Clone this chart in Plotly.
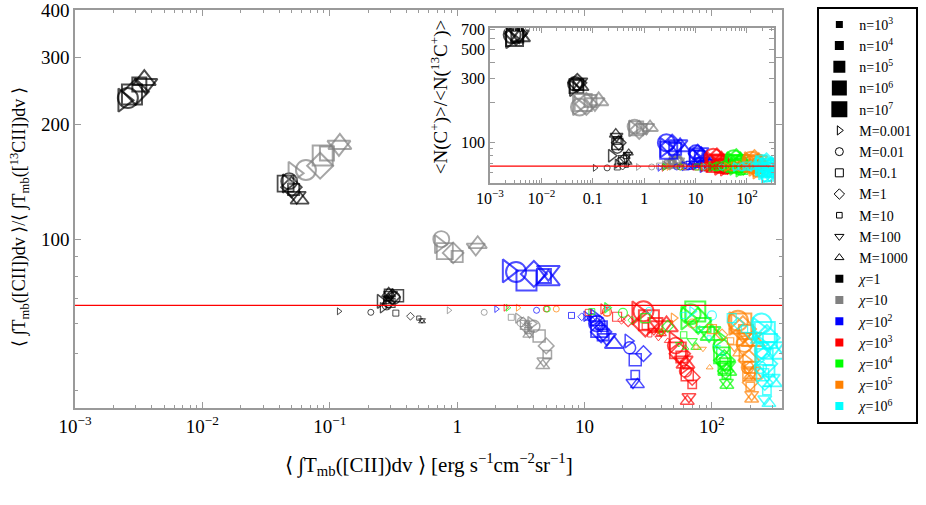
import plotly.graph_objects as go

# marker size <-> density n, symbol <-> clump mass M, colour <-> FUV field chi
n_labels = ["n=10<sup>3</sup>", "n=10<sup>4</sup>", "n=10<sup>5</sup>", "n=10<sup>6</sup>", "n=10<sup>7</sup>"]
m_labels = ["M=0.001", "M=0.01", "M=0.1", "M=1", "M=10", "M=100", "M=1000"]
chi_labels = ["<i>χ</i>=1", "<i>χ</i>=10", "<i>χ</i>=10<sup>2</sup>", "<i>χ</i>=10<sup>3</sup>",
              "<i>χ</i>=10<sup>4</sup>", "<i>χ</i>=10<sup>5</sup>", "<i>χ</i>=10<sup>6</sup>"]
chi_colors = ["#000000", "#808080", "#0000ff", "#ff0000", "#00ff00", "#ff8000", "#00ffff"]
m_symbols = ["triangle-right-open", "circle-open", "square-open", "diamond-open",
             "square-open", "triangle-down-open", "triangle-up-open"]
m_scale = [1, 1, 1, 1, 0.7, 1, 1]

isotope_ratio = 67

# main panel: <int T([CII])dv> (x) and line ratio (y); rows n=10^3..10^7, columns M=0.001..1000
main_x_chi1 = [[0.118, 0.21, 0.33, 0.43, 0.5, 0.53, 0.53],
               [0.26, 0.28, 0.3, 0.29, 0.28, 0.29, 0.29],
               [0.25, 0.32, 0.34, 0.31, 0.29, 0.3, 0.29],
               [0.046, 0.048, 0.045, 0.05, 0.052, 0.055, 0.058],
               [0.0024, 0.0026, 0.0028, 0.003, 0.0032, 0.0036, 0.0035]]
main_y_chi1 = [[64.6, 64.2, 63.9, 62.7, 62, 61.2, 60.8],
               [66, 67, 68, 68, 69, 70, 70],
               [68.6, 70, 71, 70.5, 72, 71.5, 72],
               [140, 142, 140, 137, 135, 130, 127],
               [232, 235, 240, 244, 255, 256, 262]]
main_x_chi2 = [[0.86, 1.63, 2.66, 3.3, 3.5, 3.6, 3.6],
               [3.0, 3.2, 3.4, 3.5, 3.6, 3.7, 3.6],
               [3.8, 4.0, 4.4, 5.0, 5.1, 4.8, 4.7],
               [0.72, 0.75, 0.8, 0.93, 1.0, 1.4, 1.45],
               [0.052, 0.065, 0.088, 0.084, 0.095, 0.118, 0.12]]
main_y_chi2 = [[65, 64.2, 62.3, 61, 60, 59.5, 59],
               [62, 60.5, 59.5, 58.5, 57.5, 56.5, 56],
               [60, 59, 55.6, 52.4, 49.7, 47.8, 46.5],
               [97, 100, 93, 92, 90, 95, 97],
               [149, 152, 166, 156, 168, 176, 178]]
main_x_chi3 = [[2.03, 4.2, 7.9, 9.5, 10.5, 11, 11.5],
               [10.3, 11.5, 12, 12.5, 13, 13.5, 14],
               [22, 22.6, 25, 29, 25, 24, 26],
               [12, 12.5, 13, 13.5, 14, 15, 17],
               [2.5, 2.9, 3.5, 4.0, 4.8, 5.2, 5.2]]
main_y_chi3 = [[65.5, 65, 63, 62.5, 62, 62, 61.5],
               [62.7, 62, 61, 60, 59, 58.5, 58],
               [54, 51.8, 48.2, 50, 44, 42, 41.5],
               [62, 60, 58, 57, 56, 55, 53],
               [82.5, 82, 77.8, 81, 80, 82.5, 78]]
main_x_chi4 = [[2.4, 5.0, 10.7, 19.5, 32.5, 38, 45],
               [14, 15, 18, 22, 30, 35, 40],
               [60, 62, 64, 70, 70, 66, 64],
               [50, 52, 54, 56, 58, 60, 62],
               [26, 29, 32, 30, 36, 40, 44]]
main_y_chi4 = [[66, 65.5, 64.2, 61.2, 56, 55, 54],
               [65.5, 64.5, 62.5, 61, 59, 57.5, 56.5],
               [46, 45, 44, 43.3, 41.5, 38.5, 37.5],
               [54, 52.5, 51, 50, 49, 48, 47],
               [64, 64.6, 61.2, 60, 59.5, 59, 59]]
main_x_chi5 = [[2.5, 5.1, 11.4, 23.5, 40, 55, 62],
               [15, 20, 30, 45, 60, 70, 75],
               [115, 120, 125, 128, 130, 130, 131],
               [112, 118, 120, 125, 128, 130, 132],
               [63, 68, 74, 78, 86, 95, 100]]
main_y_chi5 = [[66, 65.5, 64.5, 61.2, 57, 53, 51.8],
               [66, 64, 62, 59, 56, 54, 52],
               [50, 48, 46, 45, 44, 42, 41.3],
               [55, 52, 49.5, 48, 47, 46.5, 45],
               [62, 63.5, 64.5, 61, 59.5, 57, 56]]
main_x_chi6 = [[3, 6, 15, 40, 75, 85, 96],
               [50, 70, 100, 120, 140, 150, 160],
               [185, 190, 195, 200, 200, 205, 205],
               [170, 180, 190, 195, 200, 205, 210],
               [150, 160, 170, 175, 185, 200, 210]]
main_y_chi6 = [[66, 65.5, 64, 57, 52, 51.5, 46],
               [62, 60, 58, 56, 54, 52, 50],
               [48, 46, 44, 42, 41, 39, 38],
               [55, 53, 50, 48, 46, 45, 44],
               [60, 61, 60, 58, 57, 55, 54]]
main_x_chi7 = [[15, 32, 60, 80, 95, 110, 120],
               [70, 100, 143, 160, 180, 200, 220],
               [230, 240, 250, 260, 270, 260, 280],
               [240, 250, 260, 270, 280, 290, 300],
               [230, 245, 260, 270, 285, 300, 310]]
main_y_chi7 = [[66, 65, 63, 58, 55, 52, 50],
               [64.5, 63, 62, 60, 58, 56, 54],
               [48, 46, 44, 42, 40, 38, 37],
               [53, 51, 49, 47, 45, 43, 42],
               [58, 60, 57, 55, 54, 52, 50]]

# inset: column density ratio N(C+)/N(13C+)
ins_x_chi1 = [[0.11, 0.19, 0.3, 0.38, 0.45, 0.48, 0.5],
              [0.3, 0.35, 0.38, 0.42, 0.45, 0.48, 0.5],
              [0.23, 0.3, 0.3, 0.32, 0.3, 0.29, 0.28],
              [0.042, 0.045, 0.048, 0.05, 0.052, 0.055, 0.058],
              [0.0025, 0.0027, 0.003, 0.0032, 0.0034, 0.0037, 0.0039]]
ins_y_chi1 = [[65, 65, 66, 67, 68, 70, 71],
              [70, 73, 75, 77, 80, 82, 84],
              [80, 92, 98, 100, 104, 112, 116],
              [255, 275, 265, 280, 270, 285, 262],
              [600, 640, 610, 650, 620, 640, 615]]
ins_x_chi2 = [[0.76, 1.4, 2.0, 2.5, 2.7, 2.8, 2.9],
              [2.5, 2.8, 3.0, 3.2, 3.4, 3.5, 3.6],
              [3.5, 3.8, 4.0, 4.3, 4.5, 4.6, 4.8],
              [0.6, 0.65, 0.7, 0.8, 0.9, 1.1, 1.3],
              [0.05, 0.055, 0.065, 0.075, 0.09, 0.11, 0.13]]
ins_y_chi2 = [[66, 66, 67, 67, 67, 68, 68],
              [68, 69, 70, 70, 71, 71, 72],
              [70, 71, 72, 72, 73, 73, 74],
              [128, 132, 128, 125, 127, 130, 130],
              [190, 185, 200, 195, 205, 200, 205]]
ins_x_chi3 = [[2.0, 4.3, 6.6, 8, 9, 10, 10.5],
              [6, 7, 8, 9, 10, 11, 12],
              [14, 15, 16, 17, 18, 19, 20],
              [9, 10, 10.5, 11, 12, 12.5, 13],
              [2.5, 2.7, 3, 3.5, 4, 4.5, 5]]
ins_y_chi3 = [[65, 66, 66, 67, 67, 67, 68],
              [67, 68, 68, 69, 69, 70, 70],
              [67, 68, 69, 70, 70, 71, 72],
              [80, 85, 78, 83, 80, 86, 82],
              [92, 100, 88, 95, 90, 97, 93]]
ins_x_chi4 = [[2.4, 5.0, 10, 14, 20, 25, 30],
              [14, 16, 18, 20, 22, 25, 28],
              [35, 38, 40, 42, 44, 46, 48],
              [28, 30, 32, 34, 36, 38, 40],
              [20, 22, 24, 26, 28, 30, 32]]
ins_y_chi4 = [[65, 66, 66, 66, 66, 66, 66],
              [66, 66, 67, 67, 68, 68, 68],
              [63, 64, 65, 66, 67, 68, 68],
              [66, 67, 68, 69, 69, 70, 70],
              [72, 78, 70, 75, 72, 76, 74]]
ins_x_chi5 = [[2.5, 5.1, 11, 23, 35, 45, 55],
              [20, 25, 30, 35, 40, 45, 50],
              [70, 75, 80, 85, 90, 95, 100],
              [55, 60, 65, 70, 75, 80, 85],
              [50, 55, 58, 62, 66, 70, 75]]
ins_y_chi5 = [[66, 66, 66, 66, 66, 66, 66],
              [66, 66, 67, 67, 67, 68, 68],
              [62, 63, 64, 65, 66, 66, 67],
              [66, 67, 68, 69, 70, 70, 71],
              [72, 76, 70, 74, 72, 75, 73]]
ins_x_chi6 = [[3, 6, 15, 40, 75, 85, 96],
              [40, 50, 60, 70, 80, 90, 100],
              [150, 160, 170, 180, 190, 200, 210],
              [130, 140, 150, 160, 170, 180, 190],
              [110, 120, 130, 140, 150, 160, 170]]
ins_y_chi6 = [[66, 66, 66, 66, 66, 65, 65],
              [66, 66, 67, 67, 67, 68, 68],
              [60, 61, 62, 63, 64, 65, 66],
              [65, 66, 67, 68, 68, 69, 70],
              [72, 74, 70, 73, 71, 74, 72]]
ins_x_chi7 = [[15, 32, 60, 80, 95, 110, 120],
              [60, 80, 100, 120, 140, 160, 180],
              [220, 240, 260, 280, 300, 310, 320],
              [200, 220, 240, 260, 280, 300, 320],
              [180, 200, 220, 240, 260, 280, 300]]
ins_y_chi7 = [[66, 66, 66, 66, 66, 65, 65],
              [66, 66, 67, 67, 67, 68, 68],
              [55, 56, 57, 58, 59, 60, 61],
              [61, 62, 63, 64, 65, 66, 67],
              [68, 70, 66, 69, 67, 70, 68]]

main_sets = [(main_x_chi1, main_y_chi1), (main_x_chi2, main_y_chi2), (main_x_chi3, main_y_chi3),
             (main_x_chi4, main_y_chi4), (main_x_chi5, main_y_chi5), (main_x_chi6, main_y_chi6),
             (main_x_chi7, main_y_chi7)]
inset_sets = [(ins_x_chi1, ins_y_chi1), (ins_x_chi2, ins_y_chi2), (ins_x_chi3, ins_y_chi3),
              (ins_x_chi4, ins_y_chi4), (ins_x_chi5, ins_y_chi5), (ins_x_chi6, ins_y_chi6),
              (ins_x_chi7, ins_y_chi7)]

main_sizes = [6, 9, 12, 16, 20]
inset_sizes = [6, 8, 11, 14, 17]
line_widths = [1, 1.2, 1.5, 1.8, 2]

FONT = "Liberation Serif"


def flatten(xs, ys, sizes):
    fx, fy, sym, sz, lw = [], [], [], [], []
    for i in range(len(xs)):
        for j in range(len(xs[i])):
            fx.append(xs[i][j])
            fy.append(ys[i][j])
            sym.append(m_symbols[j])
            sz.append(sizes[i] * m_scale[j])
            lw.append(line_widths[i])
    return fx, fy, sym, sz, lw


fig = go.Figure()

for k, (xs, ys) in enumerate(main_sets):
    fx, fy, sym, sz, lw = flatten(xs, ys, main_sizes)
    fig.add_trace(go.Scatter(x=fx, y=fy, mode="markers", showlegend=False, hoverinfo="skip",
                             marker=dict(symbol=sym, size=sz, color=chi_colors[k],
                                         line=dict(width=lw, color=chi_colors[k])),
                             xaxis="x", yaxis="y"))

for k, (xs, ys) in enumerate(inset_sets):
    fx, fy, sym, sz, lw = flatten(xs, ys, inset_sizes)
    fig.add_trace(go.Scatter(x=fx, y=fy, mode="markers", showlegend=False, hoverinfo="skip",
                             marker=dict(symbol=sym, size=sz, color=chi_colors[k],
                                         line=dict(width=lw, color=chi_colors[k])),
                             xaxis="x2", yaxis="y2"))

# legend-only entries
legend_sq = [7, 9, 12, 15, 16]
for i, lab in enumerate(n_labels):
    fig.add_trace(go.Scatter(x=[None], y=[None], mode="markers", name=lab,
                             marker=dict(symbol="square", size=legend_sq[i], color="black")))
for j, lab in enumerate(m_labels):
    fig.add_trace(go.Scatter(x=[None], y=[None], mode="markers", name=lab,
                             marker=dict(symbol=m_symbols[j], size=8 * m_scale[j], color="black",
                                         line=dict(width=1, color="black"))))
for k, lab in enumerate(chi_labels):
    fig.add_trace(go.Scatter(x=[None], y=[None], mode="markers", name=lab,
                             marker=dict(symbol="square", size=8, color=chi_colors[k])))

for ax in ["x", "x2"]:
    fig.add_shape(type="line", xref=ax + " domain", yref=ax.replace("x", "y"), x0=0, x1=1,
                  y0=isotope_ratio, y1=isotope_ratio, line=dict(color="red", width=1.2))


def decade_minors(lo, hi):
    out = []
    e = lo
    while e <= hi:
        for m in range(2, 10):
            v = m * 10.0 ** e
            out.append(v)
        e += 1
    return out


axis_line = dict(showline=True, linecolor="#9a9a9a", linewidth=1.5, mirror="allticks",
                 ticks="inside", tickcolor="#9a9a9a", showgrid=False, zeroline=False,
                 ticklabeloverflow="allow")

x_major = [1e-3, 1e-2, 1e-1, 1, 10, 100]
x_main_text = ["10<sup>−3</sup>", "10<sup>−2</sup>", "10<sup>−1</sup>", "1", "10", "10<sup>2</sup>"]
x_inset_text = ["10<sup>−3</sup>", "10<sup>−2</sup>", "0.1", "1", "10", "10<sup>2</sup>"]
x_minor = [v for v in decade_minors(-3, 2) if v < 360]

fig.update_layout(
    width=926, height=505,
    margin=dict(l=75, r=144, t=10, b=97, autoexpand=False),
    paper_bgcolor="white", plot_bgcolor="white",
    font=dict(family=FONT, color="black"),
    xaxis=dict(type="log", range=[-3, 2.55], tickvals=x_major, ticktext=x_main_text,
               ticklen=6, tickfont=dict(size=19), domain=[0, 1],
               minor=dict(tickvals=x_minor, ticks="inside", ticklen=3, tickcolor="#9a9a9a"),
               **axis_line),
    yaxis=dict(type="log", range=[1.556, 2.6025], tickvals=[100, 200, 300, 400],
               ticktext=["100", "200", "300", "400"], ticklen=6, tickfont=dict(size=19), domain=[0, 1],
               minor=dict(tickvals=[40, 50, 60, 70, 80, 90], ticks="inside", ticklen=3,
                          tickcolor="#9a9a9a"),
               **axis_line),
    xaxis2=dict(type="log", range=[-3, 2.53], tickvals=x_major, ticktext=x_inset_text,
                ticklen=5, tickfont=dict(size=16), domain=[0.587, 0.989], anchor="y2",
                minor=dict(tickvals=x_minor, ticks="inside", ticklen=3, tickcolor="#9a9a9a"),
                **axis_line),
    yaxis2=dict(type="log", range=[1.699, 2.857], tickvals=[100, 200, 300, 400, 500, 600, 700],
                ticktext=["100", "", "300", "", "500", "", "700"], ticklen=5,
                tickfont=dict(size=16), domain=[0.565, 0.955], anchor="x2",
                minor=dict(tickvals=[60, 70, 80, 90], ticks="inside", ticklen=3, tickcolor="#9a9a9a"),
                **axis_line),
    legend=dict(x=1.05, y=1.008, xanchor="left", yanchor="top", bordercolor="black",
                borderwidth=2, bgcolor="white", font=dict(family=FONT, size=14),
                tracegroupgap=0, itemsizing="trace", maxheight=440),
    showlegend=True,
)

fig.add_annotation(text="⟨ ∫T<sub>mb</sub>([CII])dv ⟩ [erg s<sup>−1</sup>cm<sup>−2</sup>sr<sup>−1</sup>]",
                   xref="paper", yref="paper", x=0.5, y=-0.143, showarrow=False,
                   font=dict(size=21), xanchor="center", yanchor="middle")
fig.add_annotation(text="⟨ ∫T<sub>mb</sub>([CII])dv ⟩/⟨ ∫T<sub>mb</sub>([<sup>13</sup>CII])dv ⟩",
                   xref="paper", yref="paper", x=-0.078, y=0.48, showarrow=False, textangle=-90,
                   font=dict(size=18), xanchor="center", yanchor="middle")
fig.add_annotation(text="&lt;N(C<sup>+</sup>)&gt;/&lt;N(<sup>13</sup>C<sup>+</sup>)&gt;",
                   xref="paper", yref="paper", x=0.515, y=0.781, showarrow=False, textangle=-90,
                   font=dict(size=19), xanchor="center", yanchor="middle")

# drop the browser's default page margin so the figure sits at the window origin
fig.write_html("out.html", config={"displayModeBar": False},
               post_script="document.body.style.margin='0';")
